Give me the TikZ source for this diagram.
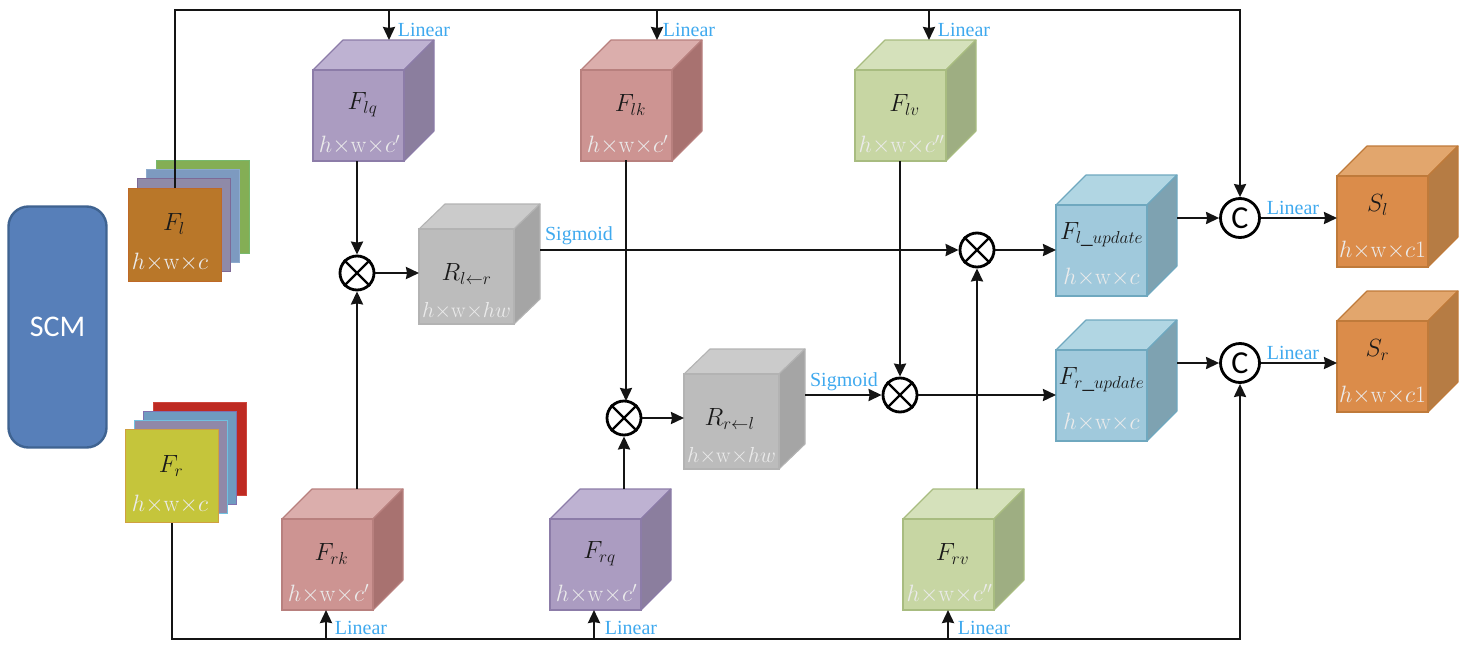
\documentclass[tikz,border=0pt]{standalone}
\usepackage[no-math]{fontspec}
\usepackage{graphicx}
\setmainfont{Liberation Serif}
\newfontfamily\scmfont{Carlito}
\usetikzlibrary{arrows.meta,calc}
\DeclareMathSizes{23}{23}{17}{13}
\definecolor{lblue}{HTML}{3FA9EE}
\tikzset{
  conn/.style={line width=2.3pt,draw=black!92},
  arr/.style={conn,-{Stealth[length=13pt,width=12pt,inset=1pt]}},
  op/.style={circle,draw=black,line width=2.8pt,fill=white,minimum size=34pt,inner sep=0pt},
  lab/.style={font=\fontsize{20}{22}\selectfont,text=lblue,inner sep=0pt},
  nm/.style={font=\fontsize{23}{25}\selectfont,text=black!90,inner sep=0pt},
  dm/.style={font=\fontsize{23}{25}\selectfont,text=white!92!black,inner sep=0pt,scale=.95},
  sheet/.style={anchor=north west,minimum width=93pt,minimum height=93pt,inner sep=0pt,line width=1.2pt},
}
\newcommand\cubeblock[2]{%
  \begingroup\pgfkeys{/cb/.cd,#2}%
  \path[fill=\cbtop,draw=\cbst,line width=1.1pt,line join=round] (\cbx,\cby) -- ++(\cbdx,-\cbdy) -- ++(\cbw,0) -- ++(-\cbdx,\cbdy) -- cycle;
  \path[fill=\cbside,draw=\cbst,line width=1.1pt,line join=round] (\cbx+\cbw,\cby) -- ++(\cbdx,-\cbdy) -- ++(0,\cbh) -- ++(-\cbdx,\cbdy) -- cycle;
  \node[anchor=north west,fill=\cbfr,draw=\cbst,line width=1.1pt,minimum width=\cbw pt,minimum height=\cbh pt,inner sep=0pt,outer sep=0pt] (#1) at (\cbx,\cby) {};
  \node[nm] (#1-t) at (\cbx+\cbw/2+\cbtx,\cby+\cbty) {\cbname};
  \node[dm] (#1-d) at (\cbx+\cbw/2+\cbdtx,\cby+\cbdd) {\cbdim};
  \coordinate (#1-r) at (\cbx+\cbw+\cbdx,\cby);
  \coordinate (#1-b) at (\cbx,\cby-\cbdy);
  \endgroup}
\pgfkeys{/cb/.cd,
  x/.store in=\cbx, y/.store in=\cby, w/.store in=\cbw, h/.store in=\cbh,
  dx/.store in=\cbdx, dy/.store in=\cbdy,
  fr/.store in=\cbfr, top/.store in=\cbtop, side/.store in=\cbside, st/.store in=\cbst,
  name/.store in=\cbname, dim/.store in=\cbdim, ty/.store in=\cbty, dd/.store in=\cbdd, tx/.store in=\cbtx, dtx/.store in=\cbdtx,
  w=91,h=91,dx=30,dy=30,ty=35,dd=75,tx=4,dtx=1,
  purple/.style={fr=AB9CC1,top=BEB2D2,side=8B7E9E,st=8C7CA8},
  red/.style={fr=CD9492,top=DBAEAC,side=A87270,st=B8807E},
  green/.style={fr=C7D6A3,top=D5E1BB,side=9EAE82,st=A8BC80},
  gray/.style={fr=BCBCBC,top=CBCBCB,side=A5A5A5,st=B3B3B3,w=95,h=95,dx=26,dy=25,ty=45,dd=82,dtx=0},
  blue/.style={fr=A0C9DC,top=B1D6E3,side=7EA2B1,st=6FA8BF,ty=30,dd=72,tx=0,dtx=0},
  orange/.style={fr=DB8C4A,top=E2A66D,side=B67C44,st=BF7A3A,ty=29,dd=74,tx=-5,dtx=0},
}
\definecolor{AB9CC1}{HTML}{AB9CC1}\definecolor{BEB2D2}{HTML}{BEB2D2}\definecolor{8B7E9E}{HTML}{8B7E9E}\definecolor{8C7CA8}{HTML}{8C7CA8}
\definecolor{CD9492}{HTML}{CD9492}\definecolor{DBAEAC}{HTML}{DBAEAC}\definecolor{A87270}{HTML}{A87270}\definecolor{B8807E}{HTML}{B8807E}
\definecolor{C7D6A3}{HTML}{C7D6A3}\definecolor{D5E1BB}{HTML}{D5E1BB}\definecolor{9EAE82}{HTML}{9EAE82}\definecolor{A8BC80}{HTML}{A8BC80}
\definecolor{BCBCBC}{HTML}{BCBCBC}\definecolor{CBCBCB}{HTML}{CBCBCB}\definecolor{A5A5A5}{HTML}{A5A5A5}\definecolor{B3B3B3}{HTML}{B3B3B3}
\definecolor{A0C9DC}{HTML}{A0C9DC}\definecolor{B1D6E3}{HTML}{B1D6E3}\definecolor{7EA2B1}{HTML}{7EA2B1}\definecolor{6FA8BF}{HTML}{6FA8BF}
\definecolor{DB8C4A}{HTML}{DB8C4A}\definecolor{E2A66D}{HTML}{E2A66D}\definecolor{B67C44}{HTML}{B67C44}\definecolor{BF7A3A}{HTML}{BF7A3A}
\newcommand\dimA{$h{\times}\mathrm{w}{\times}c'$}
\newcommand\dimB{$h{\times}\mathrm{w}{\times}c''$}
\newcommand\dimC{\scalebox{.92}{$h{\times}\mathrm{w}{\times}hw$}}
\newcommand\dimD{$h{\times}\mathrm{w}{\times}c$}
\newcommand\dimE{$h{\times}\mathrm{w}{\times}c1$}
\begin{document}
\begin{tikzpicture}[x=1pt,y=-1pt]
\useasboundingbox (0,0) rectangle (1472,648);
% SCM
\node[draw={rgb,255:red,63;green,99;blue,145},fill={rgb,255:red,87;green,127;blue,185},line width=2.4pt,rounded corners=20pt,minimum width=98pt,minimum height=241pt,inner sep=0pt,font=\scmfont\fontsize{30}{32}\selectfont,text=white] (scm) at (57.5,327) {SCM};
% left stack
\node[sheet,fill={rgb,255:red,132;green,174;blue,85},draw={rgb,255:red,120;green,185;blue,110}] (fl3) at (156,160) {};
\node[sheet,fill={rgb,255:red,125;green,154;blue,192},draw={rgb,255:red,140;green,170;blue,205}] (fl2) at (146,169) {};
\node[sheet,fill={rgb,255:red,143;green,138;blue,168},draw={rgb,255:red,125;green,105;blue,150}] (fl1) at (137,178) {};
\node[sheet,fill={rgb,255:red,185;green,119;blue,41},draw={rgb,255:red,190;green,105;blue,40}] (Fl) at (128,188) {};
\node[nm] (Fl-t) at (174,224) {$F_l$};
\node[dm] (Fl-d) at (170,262) {\dimD};
% right stack
\node[sheet,fill={rgb,255:red,190;green,42;blue,34},draw={rgb,255:red,205;green,70;blue,60}] (fr3) at (153,402) {};
\node[sheet,fill={rgb,255:red,111;green,155;blue,192},draw={rgb,255:red,128;green,112;blue,176}] (fr2) at (143,411) {};
\node[sheet,fill={rgb,255:red,144;green,136;blue,168},draw={rgb,255:red,112;green,192;blue,224}] (fr1) at (134,420) {};
\node[sheet,fill={rgb,255:red,197;green,197;blue,59},draw={rgb,255:red,208;green,160;blue,64}] (Fr) at (125,429) {};
\node[nm] (Fr-t) at (171,466) {$F_r$};
\node[dm] (Fr-d) at (170,504) {\dimD};
% cubes
\cubeblock{Flq}{purple,x=313,y=70,name=$F_{lq}$,dim=\dimA}
\cubeblock{Flk}{red,x=581,y=70,name=$F_{lk}$,dim=\dimA}
\cubeblock{Flv}{green,x=855,y=70,name=$F_{lv}$,dim=\dimB}
\cubeblock{Rlr}{gray,x=419,y=229,name=$R_{l\leftarrow r}$,dim=\dimC,tx=0}
\cubeblock{Rrl}{gray,x=684,y=374,name=$R_{r\leftarrow l}$,dim=\dimC,tx=-2}
\cubeblock{Frk}{red,x=282,y=519,name=$F_{rk}$,dim=\dimA}
\cubeblock{Frq}{purple,x=550,y=519,name=$F_{rq}$,dim=\dimA}
\cubeblock{Frv}{green,x=903,y=519,name=$F_{rv}$,dim=\dimB}
\cubeblock{Flu}{blue,x=1056,y=205,name=$F_{l\_update}$,dim=\dimD}
\cubeblock{Fru}{blue,x=1056,y=350,name=$F_{r\_update}$,dim=\dimD}
\cubeblock{Sl}{orange,x=1337,y=176,name=$S_l$,dim=\dimE}
\cubeblock{Sr}{orange,x=1337,y=321,name=$S_r$,dim=\dimE}
% operators
\node[op] (o1) at (357,273) {};
\node[op] (o2) at (624,418) {};
\node[op] (o3) at (977,250) {};
\node[op] (o4) at (900,395) {};
\foreach \n in {o1,o2,o3,o4}{
  \draw[line width=2.4pt] (\n.45) -- (\n.225) (\n.135) -- (\n.315);
}
\node[op,minimum size=39pt,font=\scmfont\fontsize{32}{32}\selectfont] (c1) at (1240,218) {C};
\node[op,minimum size=39pt,font=\scmfont\fontsize{32}{32}\selectfont] (c2) at (1240,363) {C};
% bus coordinates
\coordinate (t0) at (0,10);
\coordinate (t1) at (389,10);\coordinate (t1e) at (389,40);
\coordinate (t2) at (657,10);\coordinate (t2e) at (657,40);
\coordinate (t3) at (929,10);\coordinate (t3e) at (929,40);
\coordinate (b0) at (0,639);
\coordinate (b1) at (326,639);\coordinate (b2) at (594,639);\coordinate (b3) at (948,639);
% top and bottom buses
\draw[arr] (Fl.north) -- (Fl.north |- t0) -- (c1 |- t0) -- (c1.north);
\draw[arr] (t1) -- (t1e);
\draw[arr] (t2) -- (t2e);
\draw[arr] (t3) -- (t3e);
\draw[arr] (Fr.south) -- (Fr.south |- b0) -- (c2 |- b0) -- (c2.south);
\draw[arr] (b1) -- (b1 |- Frk.south);
\draw[arr] (b2) -- (b2 |- Frq.south);
\draw[arr] (b3) -- (b3 |- Frv.south);
% mid connectors
\coordinate (Flkout) at (626,160);\coordinate (o2in) at (626,401);
\draw[arr] (o1 |- Flq.south) -- (o1.north);
\draw[arr] (o1 |- Frk-b) -- (o1.south);
\draw[arr] (o1.east) -- (Rlr.west |- o1);
\draw[arr] (Flkout) -- (o2in);
\draw[arr] (o2 |- Frq-b) -- (o2.south);
\draw[arr] (o2.east) -- (Rrl.west |- o2);
\draw[arr] (Rlr-r |- o3) -- (o3.west);
\draw[arr] (Rrl-r |- o4) -- (o4.west);
\draw[arr] (o4 |- Flv.south) -- (o4.north);
\draw[arr] (o3 |- Frv-b) -- (o3.south);
\draw[arr] (o3.east) -- (Flu.west |- o3);
\draw[arr] (o4.east) -- (Fru.west |- o4);
\draw[arr] (Flu-r |- c1) -- (c1.west);
\draw[arr] (Fru-r |- c2) -- (c2.west);
\draw[arr] (c1.east) -- (Sl.west |- c1);
\draw[arr] (c2.east) -- (Sr.west |- c2);
% labels
\node[lab] (l1) at (424,30) {Linear};
\node[lab] (l2) at (689,30) {Linear};
\node[lab] (l3) at (964,30) {Linear};
\node[lab] (l4) at (361,628) {Linear};
\node[lab] (l5) at (631,628) {Linear};
\node[lab] (l6) at (984,628) {Linear};
\node[lab] (l7) at (1293,208) {Linear};
\node[lab] (l8) at (1293,353) {Linear};
\node[lab] (s1) at (579,236) {Sigmoid};
\node[lab] (s2) at (844,382) {Sigmoid};
\end{tikzpicture}
\end{document}
